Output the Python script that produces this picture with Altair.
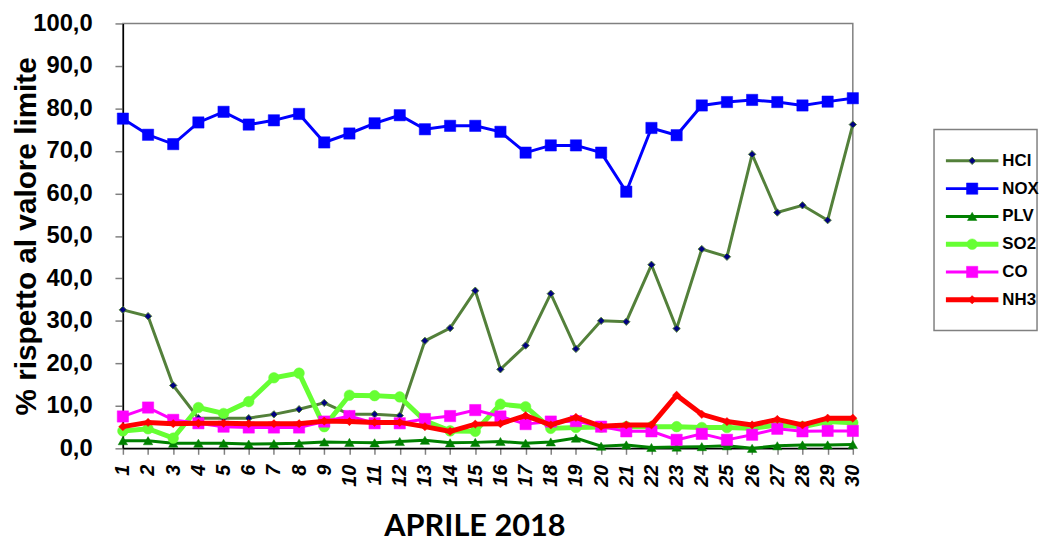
import altair as alt
import pandas as pd

days = list(range(1, 31))
names = ["HCI", "NOX", "PLV", "SO2", "CO", "NH3"]

hcl = [32.6, 31.1, 14.8, 7.1, 7.1, 7.1, 8.0, 9.2, 10.7, 8.0, 8.0, 7.7, 25.3, 28.3, 37.1,
       18.6, 24.2, 36.4, 23.4, 30.0, 29.8, 43.2, 28.2, 46.9, 45.1, 69.2, 55.5, 57.2, 53.7, 76.2]
nox = [77.6, 73.8, 71.6, 76.7, 79.2, 76.2, 77.2, 78.7, 72.0, 74.1, 76.5, 78.4, 75.1, 75.9, 75.9,
       74.5, 69.6, 71.3, 71.3, 69.6, 60.4, 75.4, 73.7, 80.7, 81.5, 82.0, 81.5, 80.7, 81.6, 82.4]
plv = [1.8, 1.8, 1.2, 1.2, 1.2, 1.0, 1.1, 1.2, 1.5, 1.4, 1.3, 1.6, 1.9, 1.3, 1.4,
       1.6, 1.2, 1.5, 2.4, 0.5, 0.8, 0.2, 0.3, 0.4, 0.6, 0.0, 0.6, 0.8, 0.8, 0.9]
so2 = [4.1, 4.6, 2.4, 9.6, 8.2, 11.0, 16.6, 17.7, 5.1, 12.5, 12.4, 12.1, 6.5, 4.1, 4.0,
       10.4, 9.8, 4.7, 4.9, 5.0, 5.1, 5.1, 5.1, 4.9, 4.9, 4.7, 5.5, 5.1, 6.3, 6.0]
co = [7.5, 9.6, 6.7, 5.9, 5.1, 4.9, 4.9, 4.9, 6.3, 7.6, 5.9, 5.9, 6.9, 7.6, 9.0,
      7.5, 5.7, 6.3, 6.4, 5.1, 4.0, 4.0, 2.0, 3.4, 2.0, 3.2, 4.6, 4.0, 4.1, 4.1]
nh3 = [5.1, 6.1, 5.8, 5.9, 5.9, 5.8, 5.8, 5.8, 6.4, 6.3, 6.1, 6.1, 5.1, 4.0, 5.7,
       5.8, 7.7, 5.5, 7.3, 5.2, 5.5, 5.5, 12.5, 8.0, 6.3, 5.5, 6.8, 5.5, 7.1, 7.1]
y_ticks = [0, 10, 20, 30, 40, 50, 60, 70, 80, 90, 100]

series_values = [hcl, nox, plv, so2, co, nh3]
df = pd.DataFrame({
    "day": days * len(names),
    "series": [n for n in names for _ in days],
    "value": [v for vals in series_values for v in vals],
})

styles = {
    "HCI": dict(line="#53803A", width=3, shape="diamond", size=55, fill="#000080", stroke="#53803A", sw=1),
    "NOX": dict(line="#0000FF", width=3, shape="square", size=130, fill="#0000FF", stroke="#0000FF", sw=0.5),
    "PLV": dict(line="#008000", width=3, shape="triangle-up", size=90, fill="#008000", stroke="#008000", sw=0.5),
    "SO2": dict(line="#66FF33", width=5, shape="circle", size=115, fill="#66FF33", stroke="#66FF33", sw=0.5),
    "CO": dict(line="#FF00FF", width=3, shape="square", size=130, fill="#FF00FF", stroke="#FF00FF", sw=0.5),
    "NH3": dict(line="#FF0000", width=5, shape="diamond", size=70, fill="#FF0000", stroke="#FF0000", sw=0.5),
}

FONT = "Liberation Sans"

x_enc = alt.X(
    "day:Q",
    scale=alt.Scale(domain=[1, 30], nice=False, zero=False),
    axis=alt.Axis(
        values=days, format="d", title="APRILE 2018", grid=False,
        labelAngle=270, labelFont=FONT, labelFontSize=20, labelFontWeight="bold",
        labelFontStyle="italic", labelColor="black", labelPadding=10,
        tickColor="#808080", tickSize=6, tickWidth=1.5,
        domainColor="black", domainWidth=1.5,
        titleFont="Lato", titleFontSize=31, titleFontWeight="bold", titleColor="black",
        titleX=355, titleY=88, titleBaseline="alphabetic", titleAnchor="middle", titleAlign="center",
    ),
)
y_enc = alt.Y(
    "value:Q",
    scale=alt.Scale(domain=[0, 100], nice=False),
    axis=alt.Axis(
        values=y_ticks, title="% rispetto al valore limite", grid=False,
        labelExpr="replace(format(datum.value, '.1f'), '.', ',')",
        labelFont=FONT, labelFontSize=24, labelFontWeight="bold", labelColor="black",
        labelPadding=23, tickColor="#808080", tickSize=8, tickWidth=1.5,
        domainColor="black", domainWidth=1.5,
        titleFont=FONT, titleFontSize=30, titleFontWeight="bold", titleColor="black",
        titleAngle=270, titleX=-97, titleBaseline="middle", titleAnchor="middle",
    ),
)

layers = []
for n in names:
    s = styles[n]
    base = alt.Chart(df).transform_filter(alt.datum.series == n)
    layers.append(base.mark_line(color=s["line"], strokeWidth=s["width"]).encode(x=x_enc, y=y_enc))
    layers.append(base.mark_point(shape=s["shape"], filled=True, size=s["size"], fill=s["fill"],
                                  stroke=s["stroke"], strokeWidth=s["sw"], opacity=1)
                  .encode(x=x_enc, y=y_enc))

main = alt.layer(*layers).properties(
    width=737, height=429, view=alt.ViewBackground(stroke="#808080", strokeWidth=1.5)
)

# Legend
leg_df = pd.DataFrame({"series": names})
ly = alt.Y("series:N", scale=alt.Scale(type="point", domain=names, range=[124.7, 293]), axis=None)
leg_layers = [
    alt.Chart(pd.DataFrame({"k": [0]})).mark_rect(fill="white", stroke="#808080", strokeWidth=1.5)
    .encode(x=alt.value(3), x2=alt.value(107), y=alt.value(107), y2=alt.value(310))
]
for n in names:
    s = styles[n]
    b = alt.Chart(leg_df).transform_filter(alt.datum.series == n)
    leg_layers.append(b.mark_rule(color=s["line"], strokeWidth=s["width"])
                      .encode(x=alt.value(15), x2=alt.value(68), y=ly))
    leg_layers.append(b.mark_point(shape=s["shape"], filled=True, size=s["size"], fill=s["fill"],
                                   stroke=s["stroke"], strokeWidth=s["sw"], opacity=1)
                      .encode(x=alt.value(41.5), y=ly))
    leg_layers.append(b.mark_text(align="left", baseline="middle", font=FONT, fontSize=17,
                                  fontWeight="bold", color="black")
                      .encode(x=alt.value(72), y=ly, text="series:N"))

legend = alt.layer(*leg_layers).properties(
    width=107, height=429, view=alt.ViewBackground(stroke="transparent")
)

chart = alt.hconcat(main, legend, spacing=79, bounds="flush").configure(
    font=FONT, padding={"left": 3, "top": 0, "right": 0, "bottom": 0}
)

chart.save("out.html", embed_options={"renderer": "svg", "actions": False})
